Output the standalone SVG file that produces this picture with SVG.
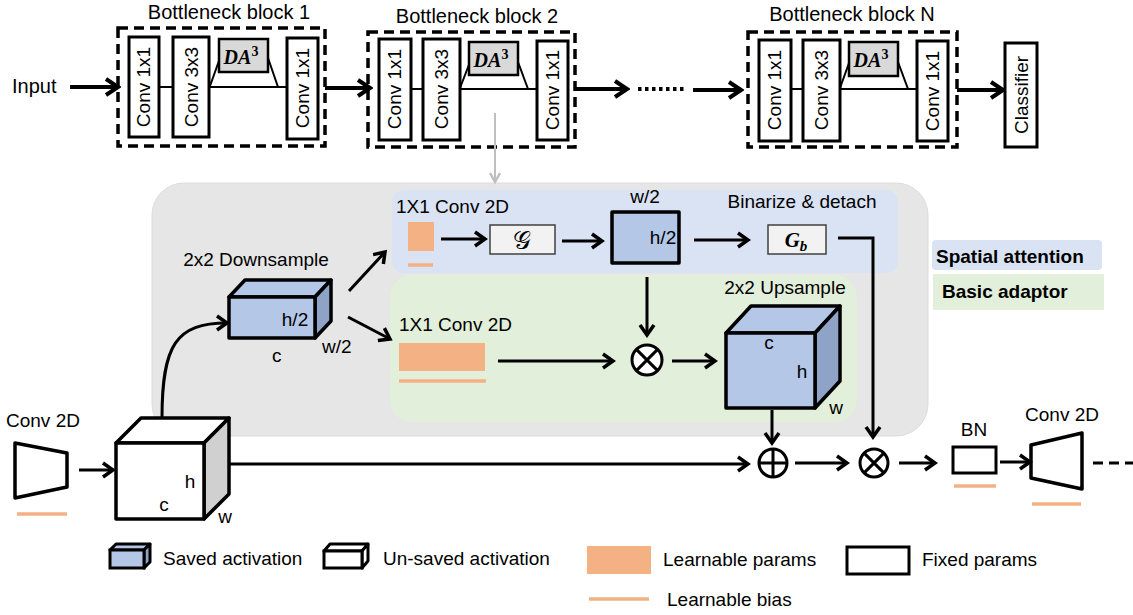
<svg xmlns="http://www.w3.org/2000/svg" width="1133" height="615" viewBox="0 0 1133 615">
<defs>
<style>
text{font-family:"Liberation Sans",Arial,sans-serif;fill:#000}
.t19{font-size:19px}
.t20{font-size:20px}
.b{font-weight:bold}
.box{fill:#fff;stroke:#000;stroke-width:3}
.dash{fill:none;stroke:#000;stroke-width:3.5;stroke-dasharray:10 6}
.thin{fill:none;stroke:#000;stroke-width:2}
.da{fill:#d9d9d9;stroke:#000;stroke-width:2.5}
.math{font-family:"Liberation Serif","Times New Roman",serif;font-weight:bold;font-style:italic}
.arr{fill:none;stroke:#000;stroke-width:3;marker-end:url(#ah)}
.arrT{fill:none;stroke:#000;stroke-width:4;marker-end:url(#ahT)}
.cube{stroke:#000;stroke-width:3.5;stroke-linejoin:round}
.front{fill:#b4c7e7}
.side{fill:#8ea3c5}
.wfront{fill:#fff}
.wside{fill:#d0d0d0}
.orange{fill:#f4b183}
.bias{stroke:#f4b183;stroke-width:3.5}
.op{fill:#fff;stroke:#000;stroke-width:3}
</style>
<marker id="ah" markerWidth="16" markerHeight="20" refX="13" refY="10" orient="auto" markerUnits="userSpaceOnUse">
<path d="M3,3 L13,10 L3,17" fill="none" stroke="#000" stroke-width="3.5"/>
</marker>
<marker id="ahT" markerWidth="18" markerHeight="22" refX="15" refY="11" orient="auto" markerUnits="userSpaceOnUse">
<path d="M3,3 L15,11 L3,19" fill="none" stroke="#000" stroke-width="4"/>
</marker>
<marker id="ahG" markerWidth="14" markerHeight="14" refX="11" refY="7" orient="auto" markerUnits="userSpaceOnUse">
<path d="M2,2 L11,7 L2,12" fill="none" stroke="#bfbfbf" stroke-width="2.5"/>
</marker>
</defs>

<rect width="1133" height="615" fill="#fff"/>

<!-- regions -->
<g id="adaptor-region">
<rect x="152" y="183" width="776" height="253" rx="32" fill="#e6e6e6" stroke="#dcdcdc" stroke-width="1"/>
<rect x="392" y="190" width="506" height="83" rx="12" fill="#dae3f3"/>
<rect x="390" y="275" width="467" height="147" rx="22" fill="#e2efda"/>
</g>

<!-- top row -->
<g id="input"><text class="t20" x="12" y="93">Input</text></g>

<g id="block1">
<text class="t20" x="229" y="19" text-anchor="middle">Bottleneck block 1</text>
<rect class="dash" x="118" y="28" width="207" height="118"/>
<line class="thin" x1="159" y1="87" x2="173" y2="87"/>
<line class="thin" x1="209" y1="87" x2="287" y2="87"/>
<line class="thin" x1="210" y1="86" x2="220" y2="58"/>
<line class="thin" x1="268" y1="58" x2="278" y2="87"/>
<rect class="box" x="129" y="37" width="30" height="100"/>
<text class="t19" transform="translate(150,87) rotate(-90)" text-anchor="middle">Conv 1x1</text>
<rect class="box" x="173" y="37" width="36" height="100"/>
<text class="t19" transform="translate(198,87) rotate(-90)" text-anchor="middle">Conv 3x3</text>
<rect class="da" x="219" y="39" width="49" height="33"/>
<text class="math" x="241" y="64" font-size="20" text-anchor="middle">DA<tspan font-size="14" font-style="normal" dy="-8">3</tspan></text>
<rect class="box" x="287" y="38" width="31" height="101"/>
<text class="t19" transform="translate(309,88) rotate(-90)" text-anchor="middle">Conv 1x1</text>
</g>

<g id="block2">
<text class="t20" x="477" y="23" text-anchor="middle">Bottleneck block 2</text>
<rect class="dash" x="368" y="32" width="207" height="115"/>
<line class="thin" x1="411" y1="89" x2="423" y2="89"/>
<line class="thin" x1="460" y1="89" x2="537" y2="89"/>
<line class="thin" x1="460" y1="88" x2="470" y2="62"/>
<line class="thin" x1="518" y1="62" x2="528" y2="89"/>
<rect class="box" x="379" y="39" width="32" height="101"/>
<text class="t19" transform="translate(401,89) rotate(-90)" text-anchor="middle">Conv 1x1</text>
<rect class="box" x="423" y="39" width="37" height="101"/>
<text class="t19" transform="translate(448,89) rotate(-90)" text-anchor="middle">Conv 3x3</text>
<rect class="da" x="469" y="42" width="49" height="33"/>
<text class="math" x="491" y="67" font-size="20" text-anchor="middle">DA<tspan font-size="14" font-style="normal" dy="-8">3</tspan></text>
<rect class="box" x="537" y="41" width="31" height="99"/>
<text class="t19" transform="translate(559,90) rotate(-90)" text-anchor="middle">Conv 1x1</text>
</g>

<g id="blockN">
<text class="t20" x="852" y="21" text-anchor="middle">Bottleneck block N</text>
<rect class="dash" x="748" y="32" width="209" height="115"/>
<line class="thin" x1="791" y1="89" x2="803" y2="89"/>
<line class="thin" x1="840" y1="89" x2="917" y2="89"/>
<line class="thin" x1="840" y1="88" x2="849" y2="63"/>
<line class="thin" x1="898" y1="62" x2="908" y2="89"/>
<rect class="box" x="759" y="40" width="32" height="101"/>
<text class="t19" transform="translate(781,90) rotate(-90)" text-anchor="middle">Conv 1x1</text>
<rect class="box" x="803" y="40" width="37" height="101"/>
<text class="t19" transform="translate(828,90) rotate(-90)" text-anchor="middle">Conv 3x3</text>
<rect class="da" x="849" y="42" width="49" height="34"/>
<text class="math" x="871" y="67" font-size="20" text-anchor="middle">DA<tspan font-size="14" font-style="normal" dy="-8">3</tspan></text>
<rect class="box" x="917" y="41" width="31" height="100"/>
<text class="t19" transform="translate(939,91) rotate(-90)" text-anchor="middle">Conv 1x1</text>
</g>

<g id="classifier">
<rect class="box" x="1005" y="43" width="32" height="104"/>
<text class="t19" transform="translate(1028,95) rotate(-90)" text-anchor="middle">Classifier</text>
</g>

<!-- middle: spatial attention -->
<g id="sa-label"><text class="t19" x="396" y="213">1X1 Conv 2D</text></g>
<g id="sa-conv">
<rect class="orange" x="408" y="222" width="26" height="29"/>
<line class="bias" x1="408" y1="265" x2="433" y2="265"/>
</g>
<g id="g-op">
<rect x="490" y="225" width="65" height="29" fill="#f2f2f2" stroke="#404040" stroke-width="1.5"/>
<text x="522" y="249" font-size="25" text-anchor="middle" style="font-family:'DejaVu Serif','DejaVu Sans',serif">𝒢</text>
</g>
<g id="attn-map">
<text class="t19" x="645" y="203" text-anchor="middle">w/2</text>
<rect class="cube front" x="612" y="212" width="67" height="51"/>
<text class="t19" x="663" y="244" text-anchor="middle">h/2</text>
</g>
<g id="binarize">
<text class="t19" x="802" y="208" text-anchor="middle">Binarize &amp; detach</text>
<rect x="768" y="225" width="58" height="29" fill="#f2f2f2" stroke="#404040" stroke-width="1.5"/>
<text class="math" x="796" y="247" font-size="21" text-anchor="middle">G<tspan font-size="15" dy="4">b</tspan></text>
</g>

<!-- downsample -->
<g id="downsample">
<text class="t19" x="256" y="266" text-anchor="middle">2x2 Downsample</text>
<polygon class="cube front" points="229,297 245,280 331,280 315,297"/>
<polygon class="cube side" points="315,297 331,280 331,321 315,338"/>
<rect class="cube front" x="229" y="297" width="86" height="41"/>
<text class="t19" x="295" y="326" text-anchor="middle">h/2</text>
<text class="t19" x="272" y="362">c</text>
<text class="t19" x="322" y="353">w/2</text>
</g>

<!-- basic adaptor -->
<g id="ba-conv">
<text class="t19" x="399" y="331">1X1 Conv 2D</text>
<rect class="orange" x="399" y="343" width="86" height="28"/>
<line class="bias" x1="399" y1="381" x2="486" y2="381"/>
</g>
<g id="mul1">
<circle class="op" cx="647" cy="360" r="15"/>
<path d="M636.4,349.4 L657.6,370.6 M657.6,349.4 L636.4,370.6" stroke="#000" stroke-width="3"/>
</g>
<g id="upsample">
<text class="t19" x="785" y="294" text-anchor="middle">2x2 Upsample</text>
<polygon class="cube front" points="726,333 751,306 840,306 815,333"/>
<polygon class="cube side" points="815,333 840,306 840,381 815,408"/>
<rect class="cube front" x="726" y="333" width="89" height="75"/>
<text class="t19" x="769" y="349" text-anchor="middle">c</text>
<text class="t19" x="802" y="378" text-anchor="middle">h</text>
<text class="t19" x="836" y="414" text-anchor="middle">w</text>
</g>

<!-- bottom row -->
<g id="conv-in">
<text class="t19" x="6" y="427">Conv 2D</text>
<polygon points="15,443 67,453 67,487 15,498" fill="#fff" stroke="#000" stroke-width="3.5" stroke-linejoin="round"/>
<line class="bias" x1="17" y1="514" x2="67" y2="514"/>
</g>
<g id="input-act">
<polygon class="cube wfront" points="116,443 141,418 229,418 204,443"/>
<polygon class="cube wside" points="204,443 229,418 229,494 204,519"/>
<rect class="cube wfront" x="116" y="443" width="88" height="76"/>
<text class="t19" x="190" y="488" text-anchor="middle">h</text>
<text class="t19" x="164" y="511" text-anchor="middle">c</text>
<text class="t19" x="225" y="523" text-anchor="middle">w</text>
</g>
<g id="add">
<circle class="op" cx="773" cy="463" r="14"/>
<path d="M759,463 H787 M773,449 V477" stroke="#000" stroke-width="3"/>
</g>
<g id="mul2">
<circle class="op" cx="874" cy="463" r="14"/>
<path d="M864.1,453.1 L883.9,472.9 M883.9,453.1 L864.1,472.9" stroke="#000" stroke-width="3"/>
</g>
<g id="bn">
<text class="t19" x="974" y="436" text-anchor="middle">BN</text>
<rect class="box" x="953" y="447" width="43" height="26"/>
<line class="bias" x1="954" y1="486" x2="996" y2="486"/>
</g>
<g id="conv-out">
<text class="t19" x="1062" y="421" text-anchor="middle">Conv 2D</text>
<polygon points="1031,445 1082,433 1082,489 1031,478" fill="#fff" stroke="#000" stroke-width="3.5" stroke-linejoin="round"/>
<line class="bias" x1="1032" y1="504" x2="1081" y2="504"/>
</g>

<!-- connectors -->
<g id="connectors">
<line class="arrT" x1="70" y1="87" x2="118" y2="87"/>
<line class="arrT" x1="325" y1="88" x2="370" y2="88"/>
<line class="arrT" x1="575" y1="89" x2="627" y2="89"/>
<line x1="638" y1="89" x2="686" y2="89" stroke="#000" stroke-width="4" stroke-dasharray="3.5 3.5"/>
<line class="arrT" x1="693" y1="90" x2="741" y2="90"/>
<line class="arrT" x1="957" y1="90" x2="1003" y2="90"/>
<line x1="495" y1="113" x2="495" y2="182" stroke="#bfbfbf" stroke-width="2" marker-end="url(#ahG)"/>

<path class="arr" d="M162,418 C162,345 176,323 227,323"/>
<line class="arr" x1="349" y1="291" x2="385" y2="252"/>
<line class="arr" x1="348" y1="317" x2="390" y2="339"/>
<line class="arr" x1="441" y1="239" x2="485" y2="239"/>
<line class="arr" x1="562" y1="241" x2="602" y2="241"/>
<line class="arr" x1="694" y1="240" x2="748" y2="240"/>
<line class="arr" x1="647" y1="277" x2="647" y2="335"/>
<line class="arr" x1="498" y1="361" x2="613" y2="361"/>
<line class="arr" x1="672" y1="361" x2="715" y2="361"/>
<path class="arr" d="M838,238 H873 V437"/>
<line class="arr" x1="772" y1="410" x2="772" y2="443"/>

<line class="arr" x1="79" y1="470" x2="113" y2="470"/>
<line class="arr" x1="229" y1="464" x2="748" y2="464"/>
<line class="arr" x1="795" y1="463" x2="847" y2="463"/>
<line class="arr" x1="899" y1="463" x2="935" y2="463"/>
<line class="arr" x1="1000" y1="462" x2="1030" y2="462"/>
<line x1="1093" y1="463" x2="1133" y2="463" stroke="#000" stroke-width="3" stroke-dasharray="10 6"/>
</g>

<!-- legends -->
<g id="legend-regions">
<rect x="932" y="240" width="170" height="30" rx="4" fill="#dae3f3"/>
<text class="t19 b" x="936" y="263">Spatial attention</text>
<rect x="933" y="274" width="171" height="36" fill="#e2efda"/>
<text class="t19 b" x="942" y="298">Basic adaptor</text>
</g>
<g id="legend">
<polygon points="110,550 116,544 150,544 144,550" fill="#b4c7e7" stroke="#000" stroke-width="3" stroke-linejoin="round"/>
<polygon points="144,550 150,544 150,562 144,568" fill="#8ea3c5" stroke="#000" stroke-width="3" stroke-linejoin="round"/>
<rect x="110" y="550" width="34" height="18" fill="#b4c7e7" stroke="#000" stroke-width="3"/>
<text class="t19" x="163" y="565">Saved activation</text>
<polygon points="324,551 330,544 368,544 362,551" fill="#fff" stroke="#000" stroke-width="3" stroke-linejoin="round"/>
<polygon points="362,551 368,544 368,561 362,568" fill="#fff" stroke="#000" stroke-width="3" stroke-linejoin="round"/>
<rect x="324" y="551" width="38" height="17" fill="#fff" stroke="#000" stroke-width="3"/>
<text class="t19" x="383" y="565">Un-saved activation</text>
<rect class="orange" x="587" y="546" width="64" height="28"/>
<text class="t19" x="663" y="566">Learnable params</text>
<rect class="box" x="847" y="547" width="62" height="27"/>
<text class="t19" x="922" y="566">Fixed params</text>
<line class="bias" x1="589" y1="599" x2="649" y2="599"/>
<text class="t19" x="667" y="606">Learnable bias</text>
</g>
</svg>
